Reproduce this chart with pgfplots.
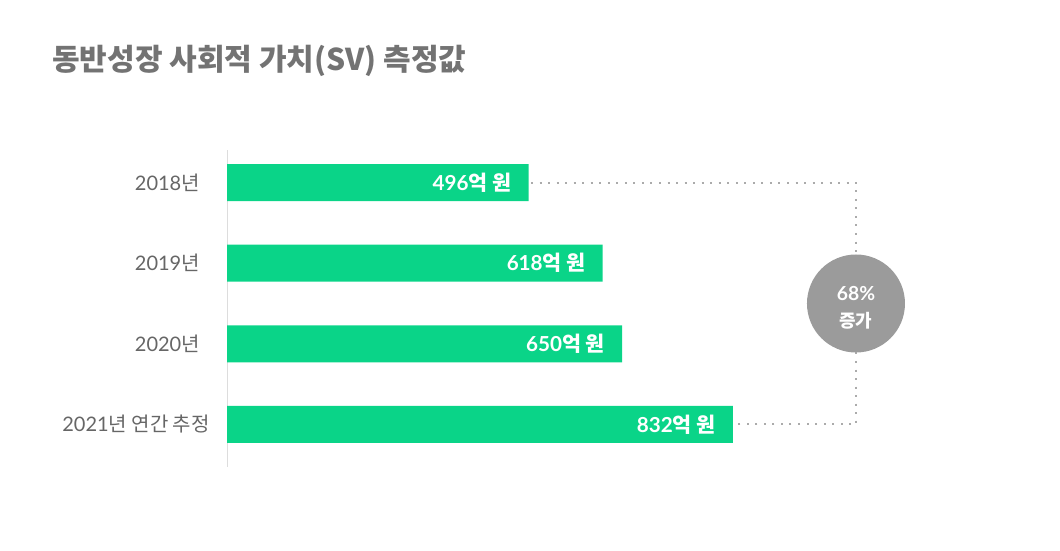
\documentclass[border=0pt]{standalone}
\usepackage{fontspec}
\usepackage{pgfplots}
\pgfplotsset{compat=1.18}
\setmainfont{Lato}
\newfontfamily\kr{Noto Sans CJK KR}
\definecolor{barg}{HTML}{0AD488}
\definecolor{titlegray}{HTML}{737373}
\definecolor{labelgray}{HTML}{666666}
\definecolor{circlegray}{HTML}{9B9B9B}
\definecolor{dotgray}{HTML}{ABABAB}
\definecolor{axisgray}{HTML}{DDDDDD}

\begin{document}
% 1 px of the 1060x550 reference = 0.75pt
\begin{tikzpicture}
  \path (0pt,0pt) rectangle (795pt,412.5pt);
  \node[anchor=west, inner sep=0pt, text=titlegray,
        font=\fontsize{22.5}{26}\selectfont\bfseries]
        at (39pt,366.5pt) {\kr 동반성장 사회적 가치(SV) 측정값};

  \begin{axis}[
      at={(170.25pt,62.25pt)}, anchor=south west,
      scale only axis, width=456pt, height=237.75pt,
      xmin=0, xmax=1000, ymin=-0.527, ymax=3.403,
      axis x line=none, axis y line*=left,
      axis line style={draw=axisgray, line width=0.75pt, -},
      ytick={0,1,2,3},
      yticklabels={{2021\kr 년 연간 추정\hspace*{-7.5pt}},{2020\kr 년},{2019\kr 년},{2018\kr 년}},
      major tick length=0pt,
      yticklabel style={anchor=east, inner sep=0pt, xshift=-20.25pt,
        text=labelgray, font=\fontsize{15}{18}\selectfont},
      clip=false,
    ]
    % dotted connector and growth badge
    \draw[dotgray, line width=1.5pt, dash pattern=on 1.5pt off 4.9pt]
      (axis cs:500,3) -- (axis cs:1034.5,3) -- (axis cs:1034.5,0) -- (axis cs:840,0);

    \addplot[xbar, fill=barg, draw=none, bar width=27.75pt,
      point meta=explicit symbolic,
      nodes near coords={\pgfplotspointmeta\kr 억 원},
      nodes near coords style={anchor=east, xshift=-12.75pt, inner sep=0pt,
        text=white, font=\fontsize{15.5}{18}\selectfont\bfseries}]
      coordinates {(496,3) [496] (618,2) [618] (650,1) [650] (832,0) [832]};

    \fill[circlegray] (axis cs:1034.5,1.5) circle[radius=36.75pt];
    \node[text=white, font=\fontsize{14.5}{17}\selectfont\bfseries, inner sep=0pt]
      at ([yshift=7.5pt]axis cs:1034.5,1.5) {68\%};
    \node[text=white, font=\fontsize{13.5}{16}\selectfont\bfseries, inner sep=0pt]
      at ([yshift=-12.75pt]axis cs:1034.5,1.5) {\kr 증가};
  \end{axis}
\end{tikzpicture}
\end{document}
